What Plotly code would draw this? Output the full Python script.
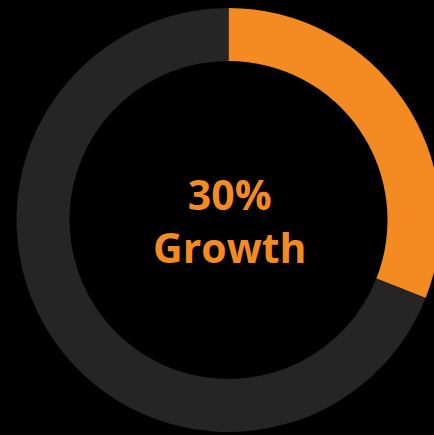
import plotly.graph_objects as go

labels = ["Growth", "Remaining"]
values = [31, 69]
colors = ["#F38A22", "#252525"]
center_lines = ["30%", "Growth"]

W, H = 457, 435
cx, cy, R = 228.5, 220.0, 212.0
hole = 0.75

fig = go.Figure()
fig.add_trace(go.Pie(
    labels=labels,
    values=values,
    marker=dict(colors=colors, line=dict(width=0)),
    hole=hole,
    sort=False,
    direction="clockwise",
    rotation=0,
    textinfo="none",
    hoverinfo="skip",
    showlegend=False,
    domain=dict(x=[0, 1], y=[1 - (cy + R) / H, 1 - (cy - R) / H]),
))

fig.add_annotation(
    text="<b>" + "<br>".join(center_lines) + "</b>",
    x=(cx + 1.5) / W, y=1 - cy / H, xref="paper", yref="paper",
    xanchor="center", yanchor="middle",
    showarrow=False,
    font=dict(family="Open Sans", size=41, color=colors[0]),
)

fig.update_layout(
    width=W, height=H,
    margin=dict(l=0, r=0, t=0, b=0),
    paper_bgcolor="#000000",
    plot_bgcolor="#000000",
)

fig.write_html(
    "out.html",
    config={"displayModeBar": False},
    post_script="document.body.style.margin='0';document.body.style.overflow='hidden';document.documentElement.style.overflow='hidden';",
)
